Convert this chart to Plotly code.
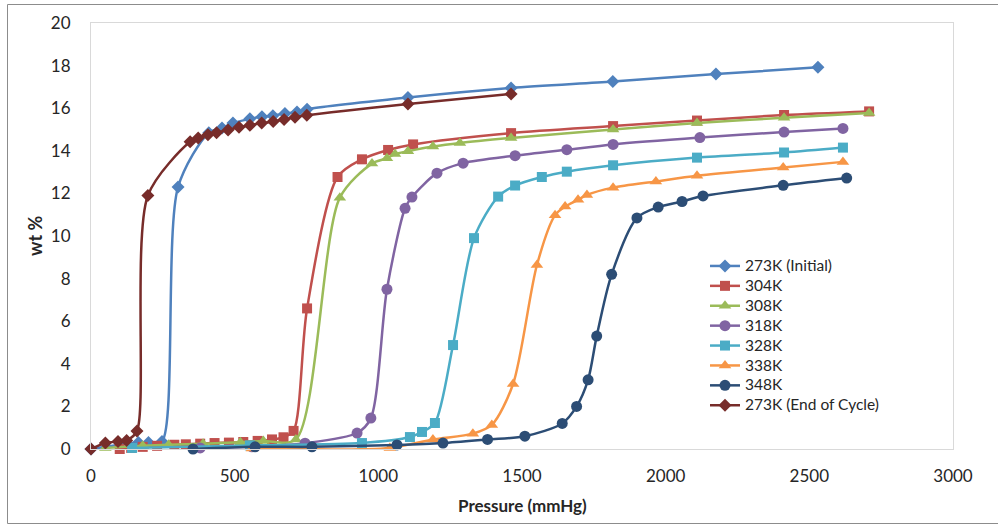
import plotly.graph_objects as go

# ---- isotherm data: pressure (mmHg) vs hydrogen uptake (wt %) ----
p_273_initial = [0, 165, 200, 247, 303, 410, 456, 494, 553, 595, 633, 675, 717, 752, 1103, 1462, 1816, 2175, 2530]
w_273_initial = [0, 0.3, 0.3, 0.35, 12.3, 14.85, 15.07, 15.3, 15.5, 15.6, 15.65, 15.75, 15.82, 15.95, 16.5, 16.95, 17.25, 17.6, 17.92]

p_304 = [100, 140, 180, 230, 290, 330, 380, 430, 480, 530, 580, 630, 670, 705, 752, 858, 943, 1034, 1121, 1462, 1817, 2109, 2412, 2708]
w_304 = [0.0, 0.05, 0.1, 0.15, 0.2, 0.22, 0.25, 0.28, 0.3, 0.33, 0.38, 0.45, 0.55, 0.85, 6.6, 12.77, 13.6, 14.04, 14.3, 14.83, 15.16, 15.42, 15.68, 15.85]

p_308 = [50, 180, 270, 390, 520, 600, 713, 866, 978, 1030, 1058, 1103, 1190, 1284, 1462, 1817, 2109, 2412, 2708]
w_308 = [0.05, 0.15, 0.2, 0.25, 0.32, 0.38, 0.45, 11.8, 13.4, 13.65, 13.85, 13.98, 14.2, 14.37, 14.6, 15.0, 15.3, 15.55, 15.77]

p_318 = [380, 560, 745, 926, 974, 1030, 1093, 1117, 1204, 1295, 1476, 1656, 1817, 2119, 2412, 2617]
w_318 = [0.05, 0.1, 0.27, 0.75, 1.45, 7.5, 11.3, 11.83, 12.95, 13.42, 13.77, 14.05, 14.3, 14.62, 14.88, 15.05]

p_328 = [143, 553, 943, 1110, 1152, 1197, 1260, 1333, 1417, 1476, 1569, 1656, 1817, 2109, 2412, 2617]
w_328 = [0.05, 0.17, 0.28, 0.56, 0.8, 1.22, 4.88, 9.9, 11.85, 12.37, 12.77, 13.02, 13.32, 13.68, 13.92, 14.15]

p_338 = [560, 1040, 1190, 1329, 1395, 1469, 1552, 1615, 1650, 1695, 1726, 1817, 1966, 2109, 2409, 2617]
w_338 = [0.02, 0.05, 0.45, 0.72, 1.13, 3.05, 8.64, 10.98, 11.38, 11.7, 11.93, 12.27, 12.56, 12.83, 13.22, 13.48]

p_348 = [355, 571, 769, 1065, 1225, 1380, 1510, 1640, 1690, 1730, 1760, 1812, 1900, 1974, 2057, 2130, 2409, 2630]
w_348 = [0.0, 0.1, 0.1, 0.19, 0.28, 0.45, 0.6, 1.2, 2.0, 3.25, 5.3, 8.2, 10.85, 11.36, 11.62, 11.88, 12.38, 12.72]

p_273_end = [0, 50, 94, 124, 160, 198, 345, 373, 407, 437, 477, 515, 553, 594, 634, 672, 710, 751, 1103, 1462]
w_273_end = [0, 0.28, 0.35, 0.4, 0.85, 11.9, 14.42, 14.6, 14.75, 14.85, 14.98, 15.1, 15.2, 15.3, 15.37, 15.47, 15.58, 15.67, 16.2, 16.67]

series_names = ["273K (Initial)", "304K", "308K", "318K", "328K", "338K", "348K", "273K (End of Cycle)"]
x_ticks = [0, 500, 1000, 1500, 2000, 2500, 3000]
y_ticks = [0, 2, 4, 6, 8, 10, 12, 14, 16, 18, 20]

FONT = "Lato"
TEXT = "#262626"

styles = [
    ("#4F81BD", "diamond", 10),
    ("#C0504D", "square", 10),
    ("#9BBB59", "triangle-up", 11),
    ("#8064A2", "circle", 11),
    ("#4BACC6", "square", 10),
    ("#F79646", "triangle-up", 11),
    ("#2C4D75", "circle", 11),
    ("#772C2A", "diamond", 10),
]
data = [
    (p_273_initial, w_273_initial), (p_304, w_304), (p_308, w_308), (p_318, w_318),
    (p_328, w_328), (p_338, w_338), (p_348, w_348), (p_273_end, w_273_end),
]

fig = go.Figure()
for name, (px, wt), (color, sym, size) in zip(series_names, data, styles):
    fig.add_trace(go.Scatter(
        x=px, y=wt, mode="lines+markers",
        name=f"<span style='font-size:15.5px'>{name}</span>",
        line=dict(color=color, width=2.5, shape="spline", smoothing=0.8),
        marker=dict(symbol=sym, size=size, color=color),
        cliponaxis=False,
    ))

# plot-area geometry (px) used to place titles and the outer frame
W, H = 998, 525
L, R, T, B = 91, 953, 23, 449
pw, ph = R - L, B - T

def px_x(v):
    return (v - L) / pw

def px_y(v):
    return (B - v) / ph

axis_common = dict(
    showgrid=False, zeroline=False, showline=True, linecolor="#D9D9D9",
    linewidth=1, mirror=True, ticks="",
    tickfont=dict(family=FONT, size=17, color=TEXT),
)

fig.update_layout(
    width=W, height=H,
    margin=dict(l=L, r=W - R, t=T, b=H - B),
    paper_bgcolor="white", plot_bgcolor="white",
    font=dict(family=FONT, color=TEXT),
    xaxis=dict(range=[0, 3000], tickvals=x_ticks, ticklabelstandoff=12, **axis_common),
    yaxis=dict(range=[0, 20], tickvals=y_ticks, ticklabelstandoff=16, **axis_common),
    legend=dict(
        x=px_x(705), y=px_y(251), xanchor="left", yanchor="top",
        bgcolor="rgba(0,0,0,0)", font=dict(family=FONT, size=13, color=TEXT),
        itemwidth=30,
    ),
    annotations=[
        dict(text="<b>Pressure (mmHg)</b>", xref="paper", yref="paper",
             x=px_x(522), y=px_y(505), xanchor="center", yanchor="middle",
             showarrow=False, font=dict(family=FONT, size=17, color=TEXT)),
        dict(text="<b>wt %</b>", xref="paper", yref="paper",
             x=px_x(35), y=px_y(236), xanchor="center", yanchor="middle",
             textangle=-90, showarrow=False,
             font=dict(family=FONT, size=18, color=TEXT)),
    ],
    shapes=[
        dict(type="rect", xref="paper", yref="paper",
             x0=px_x(7.5), x1=px_x(1010), y0=px_y(523.5), y1=px_y(4.5),
             line=dict(color="#8C8C8C", width=1), layer="below"),
    ],
)

fig.write_html("out.html")
